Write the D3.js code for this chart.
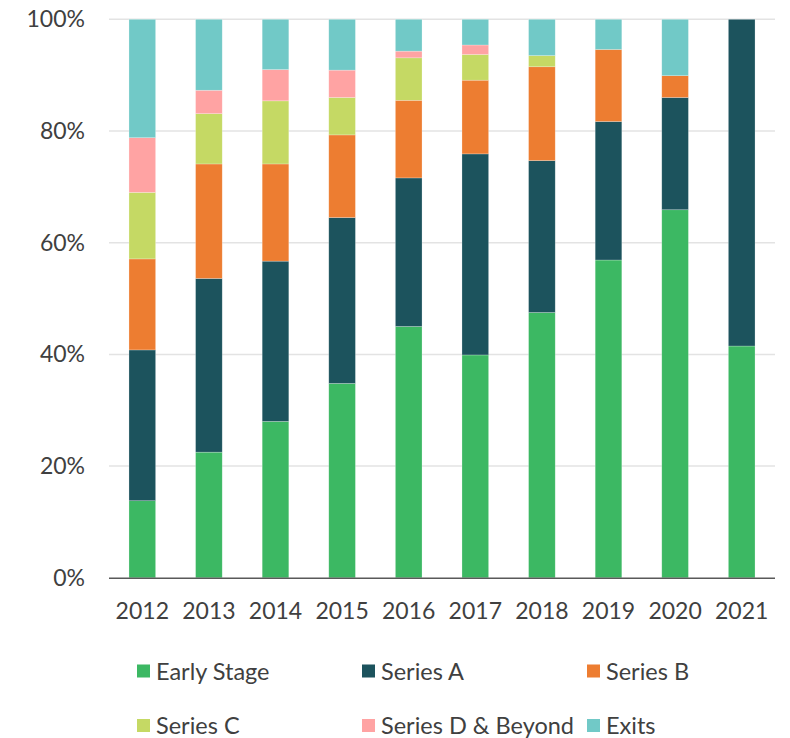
<!DOCTYPE html>
<html>
<head>
<meta charset="utf-8">
<script src="https://cdn.jsdelivr.net/npm/d3@7"></script>
<style>
    body { margin: 0; background: #fff; }
    svg { display: block; font-family: Lato, "Open Sans", sans-serif; }
</style>
</head>
<body>
<svg width="790" height="738"></svg>
<script>
// годы и серии
const years = ["2012", "2013", "2014", "2015", "2016", "2017", "2018", "2019", "2020", "2021"];
const seriesNames = ["Early Stage", "Series A", "Series B", "Series C", "Series D & Beyond", "Exits"];
const seriesColors = ["#3cb863", "#1c535d", "#ed7d31", "#c5d964", "#ffa3a3", "#71c9c7"];

// доли в процентах, по годам
const earlyStage = [13.8, 22.5, 28.0, 34.8, 45.0, 39.9, 47.5, 56.9, 65.9, 41.5];
const seriesA    = [27.0, 31.1, 28.7, 29.7, 26.6, 36.0, 27.2, 24.8, 20.1, 58.5];
const seriesB    = [16.3, 20.5, 17.4, 14.8, 13.9, 13.2, 16.8, 12.9, 3.9, 0];
const seriesC    = [11.9, 9.0, 11.3, 6.7, 7.6, 4.6, 2.0, 0, 0, 0];
const seriesD    = [9.8, 4.2, 5.6, 4.9, 1.2, 1.7, 0, 0, 0, 0];
const exits      = [21.2, 12.7, 9.0, 9.1, 5.7, 4.6, 6.5, 5.4, 10.1, 0];

const yTicks = [0, 20, 40, 60, 80, 100];

const seriesValues = [earlyStage, seriesA, seriesB, seriesC, seriesD, exits];

// таблица для d3.stack
let table = years.map((y, i) => {
    let row = {year: y};
    seriesNames.forEach((s, k) => row[s] = seriesValues[k][i]);
    return row;
});

let svg = d3.select("svg");

const area = {left: 109, right: 775, top: 19.3, bottom: 577.8};
const fontSize = 23;
const textColor = "#404040";

let scaleX = d3.scaleBand()
    .domain(years)
    .range([area.left, area.right])
    .paddingInner(0.6)
    .paddingOuter(0.3);

let scaleY = d3.scaleLinear()
    .domain([0, 100])
    .range([area.bottom, area.top]);

// сетка
svg.append("g")
    .selectAll("line")
    .data(yTicks.filter(t => t > 0))
    .join("line")
    .attr("x1", area.left)
    .attr("x2", area.right)
    .attr("y1", d => scaleY(d))
    .attr("y2", d => scaleY(d))
    .attr("stroke", "#e3e3e3")
    .attr("stroke-width", 1.5);

// ось Y
let axisY = d3.axisLeft(scaleY)
    .tickValues(yTicks)
    .tickFormat(d => d + "%")
    .tickSize(0)
    .tickPadding(24);

let gY = svg.append("g")
    .attr("transform", `translate(${area.left}, 0)`)
    .call(axisY);
gY.select(".domain").remove();
gY.selectAll("text")
    .attr("font-size", fontSize)
    .attr("font-family", "Lato, sans-serif")
    .attr("fill", textColor);

// столбцы
const stack = d3.stack().keys(seriesNames);
const stacked = stack(table);

svg.append("g")
    .selectAll("g")
    .data(stacked)
    .join("g")
    .attr("fill", (d, i) => seriesColors[i])
    .selectAll("rect")
    .data(d => d.filter(p => p[1] - p[0] > 0))
    .join("rect")
    .attr("x", d => scaleX(d.data.year))
    .attr("width", scaleX.bandwidth())
    .attr("y", d => scaleY(d[1]))
    .attr("height", d => scaleY(d[0]) - scaleY(d[1]))
    .attr("stroke", "#ffffff")
    .attr("stroke-opacity", 0.4)
    .attr("stroke-width", 0.6);

// ось X
let axisX = d3.axisBottom(scaleX)
    .tickSize(0);

let gX = svg.append("g")
    .attr("transform", `translate(0, ${area.bottom})`)
    .call(axisX);
gX.select(".domain")
    .attr("stroke", "#595959")
    .attr("stroke-width", 1.5)
    .attr("d", `M${area.left},0.5H${area.right}`);
gX.selectAll("text")
    .attr("y", 41)
    .attr("dy", null)
    .attr("font-size", fontSize)
    .attr("font-family", "Lato, sans-serif")
    .attr("fill", textColor);

// легенда
const legendCols = [137, 362, 587];
const legendRows = [671, 725.5];

let legend = svg.append("g")
    .selectAll("g")
    .data(seriesNames)
    .join("g")
    .attr("transform", (d, i) => `translate(${legendCols[i % 3]}, ${legendRows[Math.floor(i / 3)]})`);

legend.append("rect")
    .attr("x", 0)
    .attr("y", -6.5)
    .attr("width", 13)
    .attr("height", 13)
    .attr("fill", (d, i) => seriesColors[i]);

legend.append("text")
    .attr("x", 19)
    .attr("y", 8.5)
    .attr("font-size", 23.5)
    .attr("fill", textColor)
    .text(d => d);
</script>
</body>
</html>
